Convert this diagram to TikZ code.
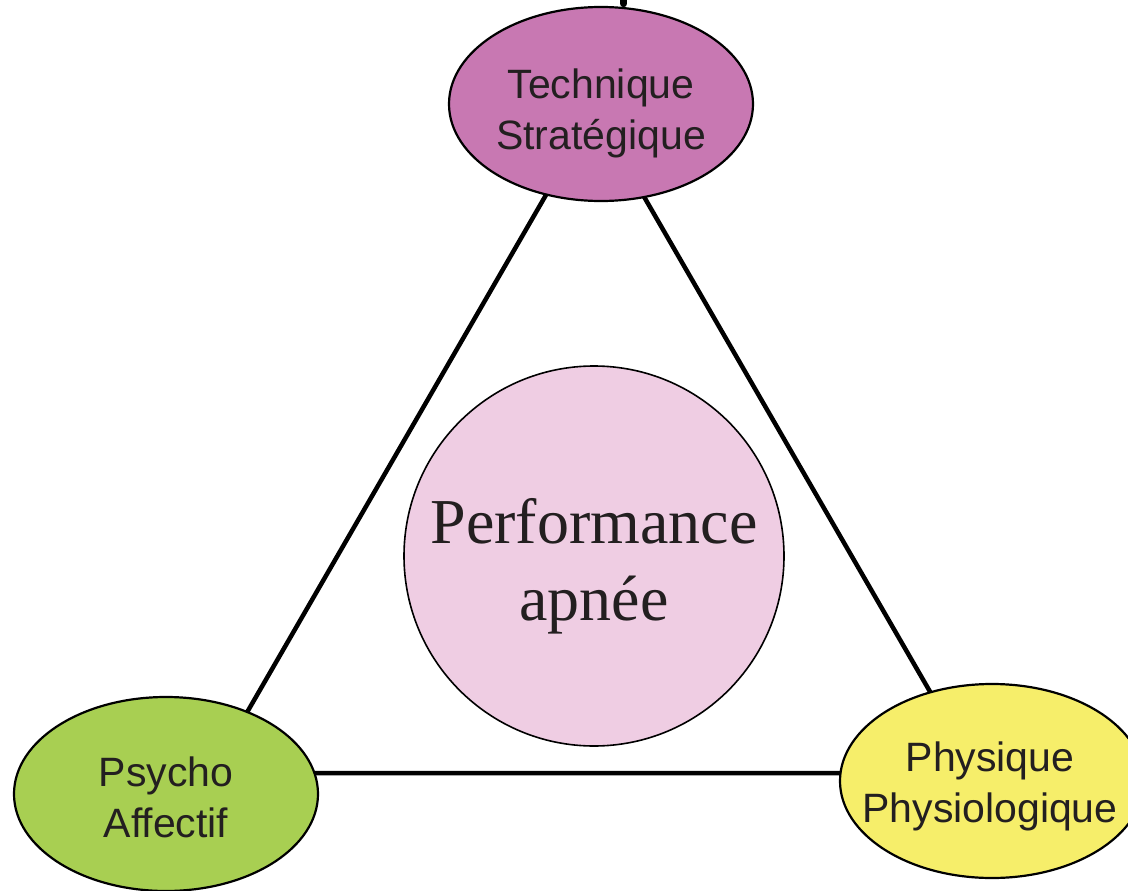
\documentclass[tikz,border=0pt]{standalone}
\usepackage{fontspec}
\setmainfont{Liberation Serif}
\setsansfont{Liberation Sans}
\usetikzlibrary{shapes.geometric}

\definecolor{techfill}{RGB}{200,120,178}
\definecolor{psyfill}{RGB}{168,207,82}
\definecolor{physfill}{RGB}{246,238,106}
\definecolor{perffill}{RGB}{239,205,227}
\definecolor{inktext}{RGB}{35,31,32}

\tikzset{
  pillar/.style={ellipse, draw=black, line width=2.2pt, minimum width=304pt,
    minimum height=194pt, inner sep=0pt},
  pillartext/.style={align=center, text=inktext, inner sep=0pt,
    font=\sffamily\fontsize{41}{51}\selectfont},
  core/.style={circle, draw=black, line width=1.6pt, fill=perffill,
    minimum size=380pt, inner sep=0pt},
  coretext/.style={align=center, text=inktext, inner sep=0pt,
    font=\rmfamily\fontsize{64}{77}\selectfont},
  link/.style={line width=4.5pt, draw=black}
}

\begin{document}
\begin{tikzpicture}[x=1pt, y=-1pt]
  \useasboundingbox (0,0) rectangle (1128,891);
  \clip (0,0) rectangle (1128,891);

  % corners of the triangle joining the three pillars
  \coordinate (apex) at (594.5,111);
  \coordinate (lcorner) at (212,773);
  \coordinate (rcorner) at (977,773);

  \draw[link] (apex) -- (lcorner) -- (rcorner) -- cycle;

  % stroke entering from above the top pillar
  \draw[line width=7.5pt, line cap=round] (623.5,-6) -- (623.5,3.5);

  % the three pillars
  \node[pillar, fill=techfill] (tech) at (601,104) {};
  \node[pillar, fill=psyfill] (psy) at (166,794) {};
  \node[pillar, fill=physfill] (phys) at (992,781) {};

  % canvas y points upwards for shifts, so negative values move text down
  \node[pillartext] (techlbl) at ([yshift=-9pt]tech.center) {Technique\\Stratégique};
  \node[pillartext] (psylbl) at ([yshift=-3pt]psy.center) {Psycho\\Affectif};
  \node[pillartext] (physlbl) at ([xshift=-2pt, yshift=-5pt]phys.center) {Physique\\Physiologique};

  % central performance circle
  \node[core] (perf) at (594,556) {};
  \node[coretext] (perflbl) at ([yshift=-10pt]perf.center) {Performance\\apnée};
\end{tikzpicture}
\end{document}
